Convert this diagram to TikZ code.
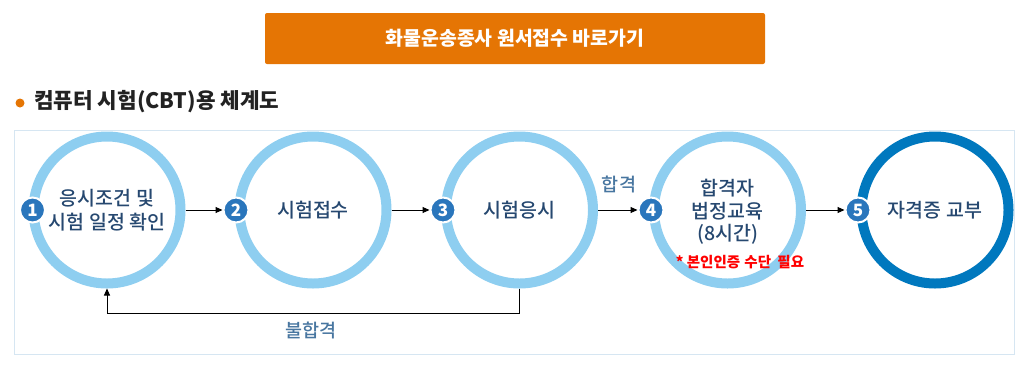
\documentclass[tikz,border=0pt]{standalone}
\usepackage{fontspec}
\setmainfont{Noto Sans CJK KR}
\newfontfamily\krmed{Noto Sans CJK KR Medium}
\usetikzlibrary{arrows.meta,positioning}
\definecolor{btnorange}{RGB}{229,117,4}
\definecolor{ringlight}{RGB}{142,206,240}
\definecolor{ringdark}{RGB}{0,120,190}
\definecolor{badgeblue}{RGB}{42,118,188}
\definecolor{navy}{RGB}{38,72,112}
\definecolor{steel}{RGB}{72,118,160}
\definecolor{frameblue}{RGB}{214,230,242}
\definecolor{ink}{RGB}{34,34,34}
\tikzset{
  >={Triangle[length=7pt,width=6pt]},
  stage/.style={circle,draw=#1,line width=10pt,fill=white,minimum size=147pt,inner sep=0pt,
    text=navy,align=center,font=\krmed\fontsize{19.5}{24}\selectfont},
  stage/.default=ringlight,
  badge/.style={circle,fill=badgeblue,draw=white,line width=2pt,minimum size=25pt,inner sep=0pt,
    text=white,font=\fontsize{17}{17}\selectfont\bfseries},
  flow/.style={->,line width=1pt,draw=black},
  tag/.style={text=steel,font=\krmed\fontsize{18.5}{20}\selectfont},
}

\begin{document}
\begin{tikzpicture}[x=1pt,y=-1pt]
  \useasboundingbox (0,0) rectangle (1030,384);
  % header
  \node[fill=btnorange,rounded corners=2pt,minimum width=500pt,minimum height=51pt,text=white,
    font=\fontsize{19.4}{20}\selectfont\bfseries] (btn) at (515,38.5) {화물운송종사 원서접수 바로가기};
  \node[circle,fill=btnorange,minimum size=9pt,inner sep=0pt] (dot) at (20,103) {};
  \node[anchor=west,inner sep=0pt,text=ink,font=\fontsize{21.3}{22}\selectfont\bfseries] (title) at (34,102) {컴퓨터 시험(CBT)용 체계도};
  % frame
  \draw[frameblue,line width=1pt] (14,130) rectangle (1014,354);
  % stages
  \node[stage] (c1) at (107,210) {응시조건 및\\시험 일정 확인};
  \node[stage] (c2) at (313,210) {시험접수};
  \node[stage] (c3) at (519.5,210) {시험응시};
  \node[stage] (c4) at (727.5,210) {};
  \node[text=navy,align=center,font=\krmed\fontsize{19.5}{22.5}\selectfont] (c4txt) at (727.5,212) {합격자\\법정교육\\(8시간)};
  \node[text=red,font=\fontsize{14.5}{15}\selectfont\bfseries] (note) at (740,262) {* 본인인증\hspace{1pt} 수단\hspace{3pt} 필요};
  \node[stage=ringdark] (c5) at (935,210) {자격증 교부};
  % badges
  \foreach \i/\x in {1/32.5,2/236,3/443,4/651,5/858}
    \node[badge] (b\i) at (\x,210) {\i};
  % arrows
  \draw[flow] (c1.east) -- (b2.west);
  \draw[flow] (c2.east) -- (b3.west);
  \draw[flow] (c3.east) -- (b4.west);
  \draw[flow] (c4.east) -- (b5.west);
  \node[tag] (pass) at (619,184) {합격};
  \draw[flow] (c3.south) -- ++(0,24.5) -| (c1.south);
  \node[tag] (fail) at (311,330) {불합격};
\end{tikzpicture}
\end{document}
